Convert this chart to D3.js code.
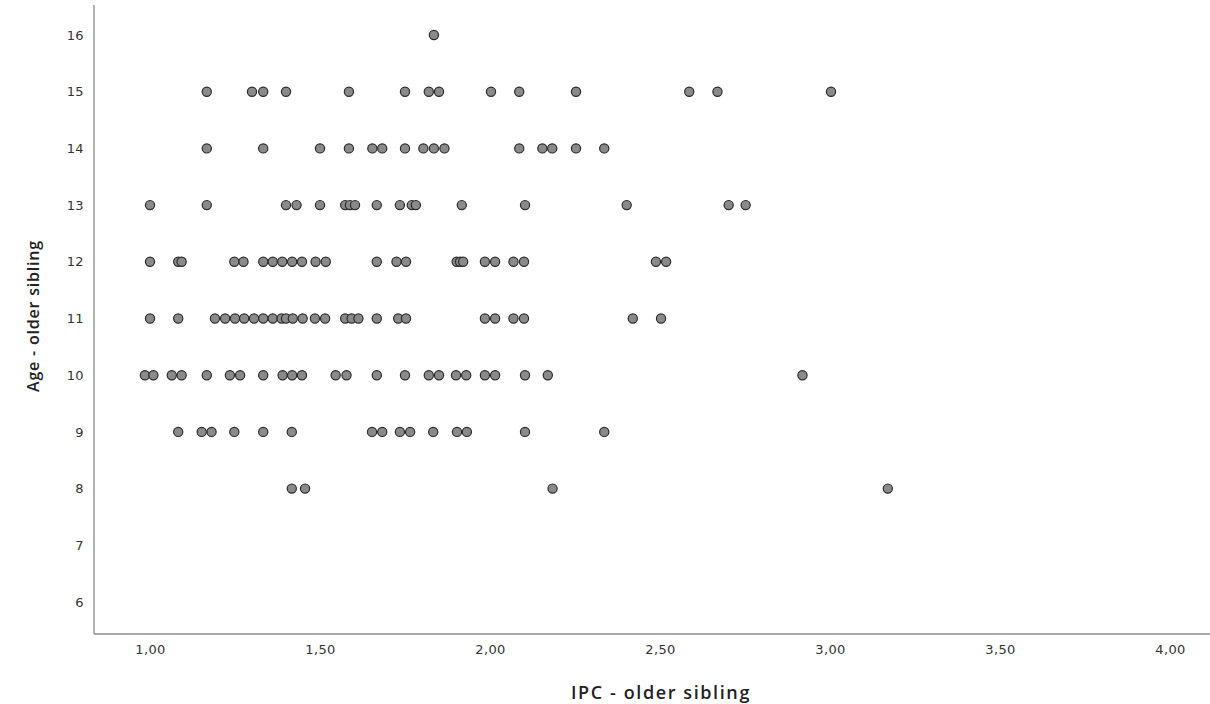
<!DOCTYPE html>
<html>
<head>
<meta charset="utf-8">
<script src="https://cdn.jsdelivr.net/npm/d3@7"></script>
<style>
  body { margin: 0; background: #fff; }
  svg { display: block; }
</style>
</head>
<body>
<div id="chart"></div>
<script>
// IPC - older sibling, grouped by age
const age16 = [1.835];
const age15 = [1.167, 1.30, 1.333, 1.40, 1.585, 1.75, 1.82, 1.85, 2.003, 2.086, 2.253, 2.586, 2.669, 3.003];
const age14 = [1.167, 1.333, 1.50, 1.585, 1.654, 1.683, 1.75, 1.804, 1.835, 1.866, 2.086, 2.154, 2.183, 2.253, 2.336];
const age13 = [1.0, 1.167, 1.40, 1.431, 1.50, 1.574, 1.588, 1.603, 1.667, 1.735, 1.770, 1.782, 1.917, 2.103, 2.402, 2.702, 2.752];
const age12 = [1.0, 1.083, 1.093, 1.248, 1.275, 1.333, 1.361, 1.389, 1.418, 1.447, 1.487, 1.517, 1.667, 1.725, 1.753,
               1.902, 1.912, 1.921, 1.985, 2.015, 2.069, 2.10, 2.488, 2.518];
const age11 = [1.0, 1.083, 1.191, 1.221, 1.25, 1.277, 1.306, 1.333, 1.361, 1.387, 1.40, 1.42, 1.449, 1.485, 1.515,
               1.574, 1.593, 1.613, 1.667, 1.730, 1.753, 1.985, 2.015, 2.069, 2.10, 2.42, 2.503];
const age10 = [0.985, 1.01, 1.064, 1.093, 1.167, 1.235, 1.265, 1.333, 1.39, 1.418, 1.447, 1.546, 1.578, 1.667, 1.75,
               1.82, 1.85, 1.90, 1.93, 1.985, 2.015, 2.103, 2.17, 2.919];
const age9 = [1.083, 1.152, 1.181, 1.248, 1.333, 1.417, 1.653, 1.683, 1.735, 1.765, 1.833, 1.903, 1.932, 2.103, 2.336];
const age8 = [1.417, 1.456, 2.184, 3.17];

const ages = [16, 15, 14, 13, 12, 11, 10, 9, 8];
const ipcByAge = [age16, age15, age14, age13, age12, age11, age10, age9, age8];

const xTicks = [1.0, 1.5, 2.0, 2.5, 3.0, 3.5, 4.0];
const yTicks = [6, 7, 8, 9, 10, 11, 12, 13, 14, 15, 16];

// flatten into points
const data = [];
ages.forEach((a, i) => ipcByAge[i].forEach(v => data.push({ x: v, y: a })));

const width = 1210;
const height = 704;

const svg = d3.select("#chart")
    .append("svg")
    .attr("width", width)
    .attr("height", height);

const xScale = d3.scaleLinear()
    .domain([1, 4])
    .range([150, 1170]);

const yScale = d3.scaleLinear()
    .domain([6, 16])
    .range([602, 35]);

const axisX = 94;
const axisY = 634;

// axis lines
svg.append("line")
    .attr("x1", axisX).attr("x2", width)
    .attr("y1", axisY).attr("y2", axisY)
    .attr("stroke", "#8c8c8c")
    .attr("stroke-width", 1.3);

svg.append("line")
    .attr("x1", axisX).attr("x2", axisX)
    .attr("y1", 5).attr("y2", axisY)
    .attr("stroke", "#8c8c8c")
    .attr("stroke-width", 1.3);

const fmt = d => d3.format(".2f")(d).replace(".", ",");

// X axis
const gx = svg.append("g")
    .attr("transform", "translate(0," + axisY + ")")
    .call(d3.axisBottom(xScale).tickValues(xTicks).tickFormat(fmt).tickSize(0).tickPadding(11));
gx.select(".domain").remove();
gx.selectAll("text")
    .attr("font-family", "DejaVu Sans, Verdana, sans-serif")
    .attr("font-size", 13)
    .attr("letter-spacing", 0.4)
    .attr("fill", "#333");

// Y axis
const gy = svg.append("g")
    .attr("transform", "translate(" + axisX + ",0)")
    .call(d3.axisLeft(yScale).tickValues(yTicks).tickFormat(d3.format("d")).tickSize(0).tickPadding(10));
gy.select(".domain").remove();
gy.selectAll("text")
    .attr("font-family", "DejaVu Sans, Verdana, sans-serif")
    .attr("font-size", 13)
    .attr("letter-spacing", 0.4)
    .attr("fill", "#333");

// axis titles
svg.append("text")
    .attr("x", 661)
    .attr("y", 699)
    .attr("text-anchor", "middle")
    .attr("font-family", "Open Sans, sans-serif")
    .attr("font-weight", 600)
    .attr("font-size", 18)
    .attr("letter-spacing", 1.6)
    .attr("fill", "#222")
    .text("IPC - older sibling");

svg.append("text")
    .attr("transform", "translate(39,316) rotate(-90)")
    .attr("text-anchor", "middle")
    .attr("font-family", "Open Sans, sans-serif")
    .attr("font-weight", 600)
    .attr("font-size", 16)
    .attr("letter-spacing", 0.8)
    .attr("fill", "#222")
    .text("Age - older sibling");

// points
svg.selectAll("circle")
    .data(data)
    .enter()
    .append("circle")
    .attr("cx", d => xScale(d.x))
    .attr("cy", d => yScale(d.y))
    .attr("r", 4.6)
    .attr("fill", "#8a8a8a")
    .attr("stroke", "#2b2b2b")
    .attr("stroke-width", 1.2);
</script>
</body>
</html>
